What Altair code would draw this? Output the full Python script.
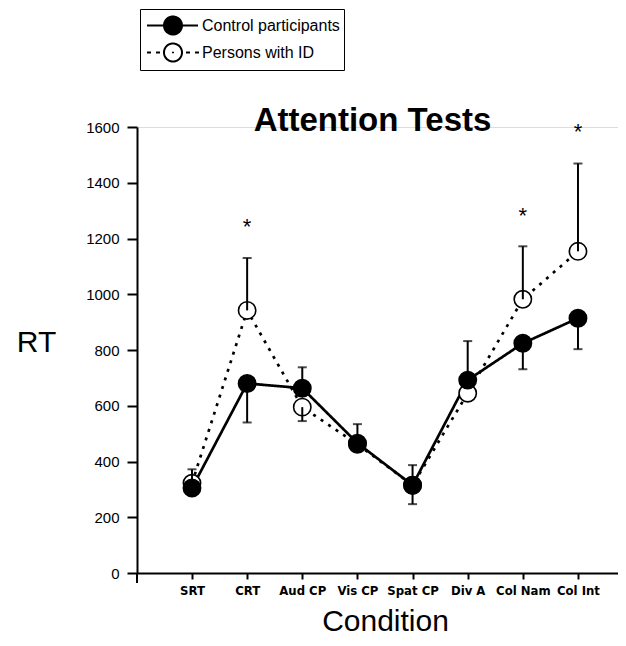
import altair as alt
import pandas as pd

conditions = ["SRT", "CRT", "Aud CP", "Vis CP", "Spat CP", "Div A", "Col Nam", "Col Int"]
groups = ["Control participants", "Persons with ID"]
control_rt = [305, 680, 663, 466, 315, 692, 824, 914]
id_rt = [322, 942, 595, 462, 315, 645, 982, 1154]
control_bar_end = [None, 540, 738, 534, 387, 832, 731, 803]
id_bar_end = [372, 1130, 545, None, 247, None, 1172, 1469]
star_rt = [None, 1260, None, None, None, None, 1300, 1600]
title_text = "Attention Tests"

FONT = "Liberation Sans, Arial, Helvetica, sans-serif"
NARROW = "Liberation Sans Narrow, Arial Narrow, DejaVu Sans Condensed, sans-serif"

W, H = 481, 446

rows = []
for i, c in enumerate(conditions):
    rows.append({"idx": i, "cond": c, "group": groups[0], "style": "solid", "rt": control_rt[i], "end": control_bar_end[i], "order": 1})
    rows.append({"idx": i, "cond": c, "group": groups[1], "style": "dotted", "rt": id_rt[i], "end": id_bar_end[i], "order": 0})
df = pd.DataFrame(rows)
df_bars = df.dropna(subset=["end"])
df_stars = pd.DataFrame({"idx": list(range(len(conditions))), "rt": star_rt}).dropna()
df_stars["s"] = "*"

x_enc = alt.X("idx:Q",
    scale=alt.Scale(domain=[-0.9975, 7.726], nice=False, zero=False),
    axis=alt.Axis(values=list(range(len(conditions))),
                  labelExpr="[" + ",".join("'" + c + "'" for c in conditions) + "][datum.value]",
                  tickSize=6, tickWidth=2, domainWidth=2, domainColor="black", tickColor="black",
                  labelFont=NARROW, labelFontWeight="bold", labelFontSize=13, labelPadding=5,
                  labelColor="black", labelFlush=False, labelOverlap=False, grid=False,
                  title="Condition", titleFont=FONT, titleFontSize=30, titleFontWeight="normal",
                  titleColor="black", titleX=248, titleY=57, titleBaseline="alphabetic", titleAlign="center"))
y_enc = alt.Y("rt:Q",
    scale=alt.Scale(domain=[0, 1600], nice=False),
    axis=alt.Axis(values=list(range(0, 1601, 200)), format="d", tickSize=10, tickWidth=2, domainWidth=2,
                  domainColor="black", tickColor="black", labelFont=FONT, labelFontSize=15,
                  labelPadding=8, labelColor="black", grid=False,
                  title="RT", titleAngle=0, titleX=-101, titleY=224, titleFont=FONT, titleFontSize=30,
                  titleFontWeight="normal", titleColor="black", titleBaseline="alphabetic", titleAlign="center"))

fill_scale = alt.Scale(domain=groups, range=["black", "white"])

circle = "M2.125,0A0.75,0.75,0,1,1,0.625,0A0.75,0.75,0,1,1,2.125,0"
ctrl_path = "M-0.79,0L0.625,0M2.125,0L3.46,0" + circle
id_path = ("M-0.79,0L-0.46,0M-0.04,0L0.29,0M2.46,0L2.79,0M3.21,0L3.54,0" + circle +
           "M1.375,-0.06L1.375,0.06")

base = alt.Chart(df)

lines = base.mark_line(color="black", strokeWidth=2.7).encode(
    x=x_enc, y=y_enc,
    strokeDash=alt.StrokeDash("style:N", scale=alt.Scale(domain=["solid", "dotted"], range=[[1, 0], [3, 6]]), legend=None),
    detail="group:N",
    order="idx:Q",
)

points = base.mark_point(filled=False, stroke="black", strokeWidth=1.6, size=300, opacity=1, shape="circle").encode(
    x="idx:Q", y="rt:Q",
    fill=alt.Fill("group:N", scale=fill_scale, legend=None),
    order=alt.Order("order:Q"),
)

bars = alt.Chart(df_bars).mark_rule(color="black", strokeWidth=2).encode(
    x="idx:Q", y="rt:Q", y2="end:Q")
caps = alt.Chart(df_bars).mark_tick(color="black", orient="horizontal", size=9, thickness=2).encode(
    x="idx:Q", y="end:Q")

stars = alt.Chart(df_stars).mark_text(font=FONT, fontSize=22, color="black", baseline="middle", dy=5).encode(
    x="idx:Q", y="rt:Q", text="s:N")

leg = alt.Legend(title=None, orient="none", legendX=3, legendY=-118,
                 strokeColor="black", padding=3.5, symbolSize=576,
                 symbolStrokeWidth=2, symbolStrokeColor="black", symbolOpacity=1, symbolDash=[1, 0],
                 labelFont=FONT, labelFontSize=16, labelColor="black",
                 labelOffset=32.5, rowPadding=-1, labelLimit=400)
legend_layer = alt.Chart(df).mark_point(opacity=0, filled=False).encode(
    x="idx:Q", y="rt:Q",
    shape=alt.Shape("group:N", scale=alt.Scale(domain=groups, range=[ctrl_path, id_path]), legend=leg),
    fill=alt.Fill("group:N", scale=fill_scale, legend=leg),
    stroke=alt.Stroke("group:N", scale=alt.Scale(domain=groups, range=["black", "black"]), legend=leg),
)

title_df = pd.DataFrame({"t": [title_text]})
title_mark = alt.Chart(title_df).mark_text(font=FONT, fontSize=33, fontWeight="bold", color="black",
                                            baseline="alphabetic", align="center").encode(
    x=alt.value(235.5), y=alt.value(4), text="t:N")

yext = alt.Chart(title_df).mark_rule(color="black", strokeWidth=2).encode(
    x=alt.value(0), y=alt.value(H), y2=alt.value(H + 10))

chart = alt.layer(legend_layer, lines, points, bars, caps, stars, title_mark, yext).properties(
    width=W, height=H,
    autosize=alt.AutoSizeParams(type="none"),
    padding={"left": 129, "top": 119, "right": 0, "bottom": 65},
).configure_view(stroke=None).configure(background="white")

chart.save("out.html", embed_options={"renderer": "svg", "actions": False})
